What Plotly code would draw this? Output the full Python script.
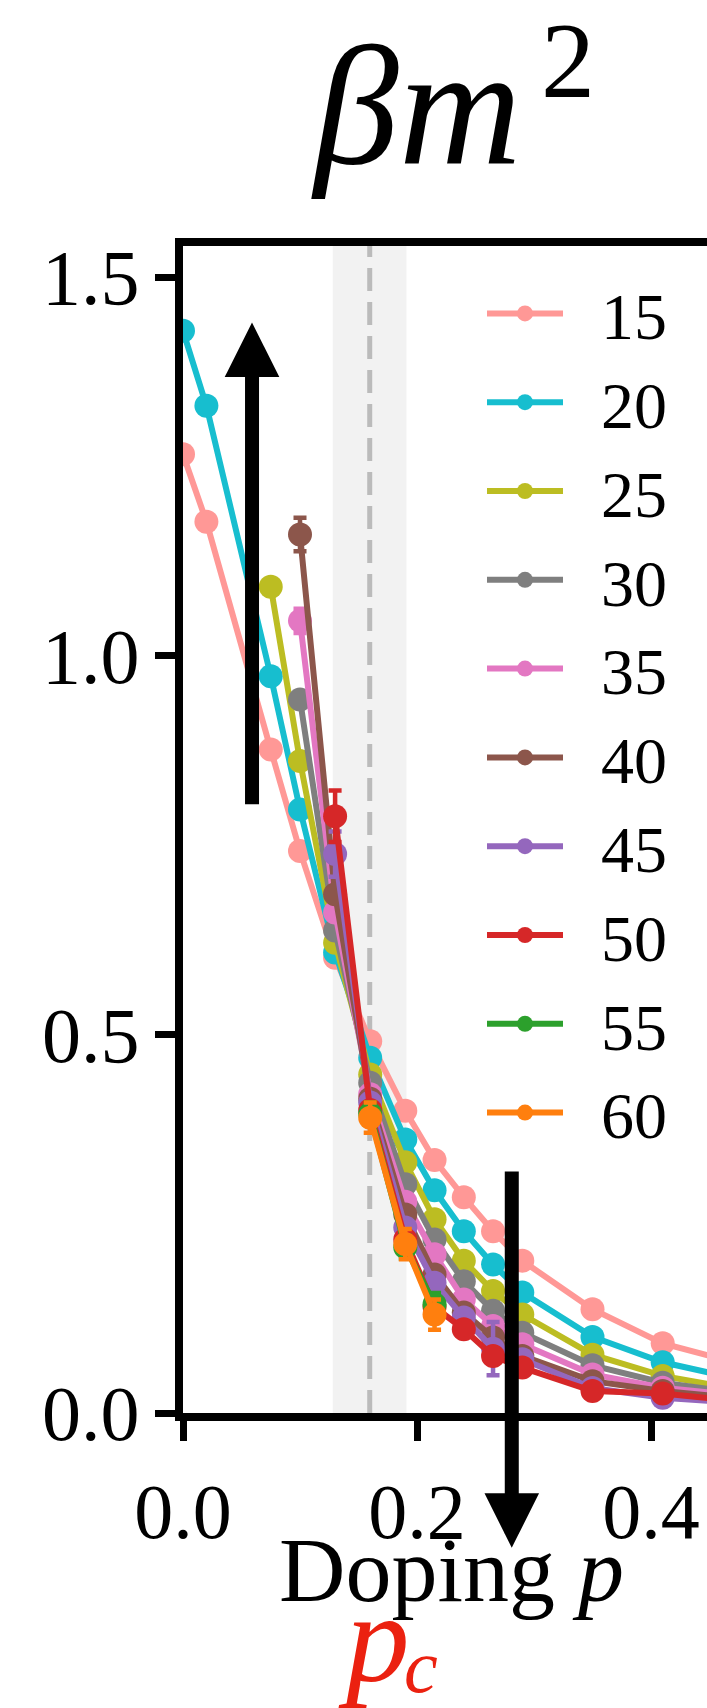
import plotly.graph_objects as go

# ---------------- data ----------------
P = [0.0, 0.02, 0.075, 0.1, 0.13, 0.16, 0.19, 0.215, 0.24, 0.265, 0.29, 0.35, 0.41, 0.5]

sizes = [15, 20, 25, 30, 35, 40, 45, 50, 55, 60]
colors = ["#FF9896", "#17BECF", "#BCBD22", "#7F7F7F", "#E377C2",
          "#8C564B", "#9467BD", "#D62728", "#2CA02C", "#FF7F0E"]

p15 = P
y15 = [1.266, 1.177, 0.876, 0.742, 0.601, 0.491, 0.399, 0.334, 0.285, 0.240, 0.201, 0.137, 0.092, 0.055]
e15 = [0.004] * 14

p20 = P
y20 = [1.429, 1.330, 0.973, 0.797, 0.608, 0.469, 0.361, 0.294, 0.240, 0.196, 0.159, 0.1005, 0.067, 0.036]
e20 = [0.004] * 14

p25 = P[2:]
y25 = [1.091, 0.861, 0.621, 0.447, 0.331, 0.256, 0.201, 0.161, 0.130, 0.077, 0.049, 0.024]
e25 = [0.008, 0.006, 0.005, 0.005, 0.004, 0.004, 0.004, 0.004, 0.004, 0.003, 0.003, 0.003]

p30 = P[3:]
y30 = [0.942, 0.637, 0.436, 0.302, 0.229, 0.174, 0.135, 0.106, 0.063, 0.040, 0.021]
e30 = [0.008, 0.006, 0.005, 0.005, 0.005, 0.004, 0.004, 0.004, 0.003, 0.003, 0.003]

p35 = P[3:]
y35 = [1.046, 0.661, 0.421, 0.279, 0.2096, 0.150, 0.115, 0.0907, 0.051, 0.0335, 0.019]
e35 = [0.016, 0.006, 0.005, 0.005, 0.005, 0.005, 0.004, 0.004, 0.003, 0.003, 0.003]

p40 = P[3:]
y40 = [1.160, 0.685, 0.415, 0.262, 0.183, 0.1326, 0.0996, 0.0754, 0.042, 0.029, 0.016]
e40 = [0.022, 0.008, 0.006, 0.006, 0.005, 0.005, 0.005, 0.004, 0.003, 0.003, 0.003]

p45 = P[4:]
y45 = [0.738, 0.410, 0.245, 0.172, 0.126, 0.085, 0.071, 0.033, 0.020, 0.011]
e45 = [0.030, 0.008, 0.008, 0.006, 0.006, 0.035, 0.006, 0.004, 0.004, 0.003]

p50 = P[4:]
y50 = [0.788, 0.400, 0.229, 0.140, 0.1106, 0.0754, 0.060, 0.029, 0.0256, 0.012]
e50 = [0.034, 0.010, 0.008, 0.008, 0.006, 0.006, 0.005, 0.004, 0.004, 0.003]

p55 = P[5:8]
y55 = [0.395, 0.219, 0.1435]
e55 = [0.015, 0.015, 0.015]

p60 = P[5:8]
y60 = [0.390, 0.223, 0.130]
e60 = [0.020, 0.020, 0.020]

xs = [p15, p20, p25, p30, p35, p40, p45, p50, p55, p60]
ys = [y15, y20, y25, y30, y35, y40, y45, y50, y55, y60]
es = [e15, e20, e25, e30, e35, e40, e45, e50, e55, e60]

p_crit = 0.1596
p_band = [0.128, 0.191]
xticks = [0.0, 0.2, 0.4]
yticks = [0.0, 0.5, 1.0, 1.5]

# ---------------- figure ----------------
W, H = 707, 1708
L, R, T, B = 183, 0, 242, 295
FONT = "Liberation Serif"
NB = "\u00a0"

fig = go.Figure()
for L_, c, x, y, e in zip(sizes, colors, xs, ys, es):
    fig.add_trace(go.Scatter(
        x=x, y=y, name=NB * 2 + str(L_), mode="lines+markers",
        line=dict(color=c, width=6),
        marker=dict(color=c, size=24, line=dict(width=0)),
        error_y=dict(type="data", array=e, visible=True, color=c,
                     thickness=4.5, width=6.5),
    ))

fig.add_shape(type="rect", xref="x", yref="paper", x0=p_band[0], x1=p_band[1],
              y0=0, y1=1, fillcolor="#F2F2F2", line=dict(width=0), layer="below")
fig.add_shape(type="line", xref="x", yref="paper", x0=p_crit, x1=p_crit,
              y0=0, y1=1, line=dict(color="#BBBBBB", width=5, dash="23px,11px"),
              layer="below")
# top spine (right part of figure is cropped, so no right spine)
fig.add_shape(type="line", xref="paper", yref="paper", x0=-8 / (W - L - R), x1=1,
              y0=1, y1=1, line=dict(color="black", width=8), layer="above")

axis_common = dict(showline=True, linewidth=8, linecolor="black", ticks="outside",
                   ticklen=20, tickwidth=7, tickcolor="black", showgrid=False,
                   zeroline=False, tickfont=dict(family=FONT, size=78, color="black"),
                   tickformat=".1f")
fig.update_xaxes(range=[0, (W - L - R) / 1170.0], tickvals=xticks,
                 ticklabelstandoff=3, **axis_common)
fig.update_yaxes(range=[0, (H - T - B) / 757.3], tickvals=yticks,
                 ticklabelstandoff=0, **axis_common)

pw, ph = W - L - R, H - T - B


def px(xp):
    return (xp - L) / pw


def py(yp):
    return (H - B - yp) / ph


annotations = [
    dict(text="<i>βm</i>", xref="paper", yref="paper",
         x=px(416), y=py(106), xanchor="center", yanchor="middle", showarrow=False,
         font=dict(family=FONT, size=170, color="black")),
    dict(text="2", xref="paper", yref="paper",
         x=px(568), y=py(60), xanchor="center", yanchor="middle", showarrow=False,
         font=dict(family=FONT, size=108, color="black")),
    dict(text="Doping <i>p</i>", xref="paper", yref="paper",
         x=px(451), y=py(1570), xanchor="center", yanchor="middle", showarrow=False,
         font=dict(family=FONT, size=92, color="black")),
    dict(text="<i>p</i>", xref="paper", yref="paper",
         x=px(374), y=py(1638), xanchor="center", yanchor="middle", showarrow=False,
         font=dict(family=FONT, size=127, color="#EB2110")),
    dict(text="<i>c</i>", xref="paper", yref="paper",
         x=px(421), y=py(1666), xanchor="center", yanchor="middle", showarrow=False,
         font=dict(family=FONT, size=76, color="#EB2110")),
    # arrows
    dict(text="", x=0.059, y=1.44, ax=0.059, ay=0.802, xref="x", yref="y",
         axref="x", ayref="y", showarrow=True, arrowhead=2, arrowwidth=14,
         arrowsize=0.78, arrowcolor="black"),
    dict(text="", x=0.281, y=-0.178, ax=0.281, ay=0.321, xref="x", yref="y",
         axref="x", ayref="y", showarrow=True, arrowhead=2, arrowwidth=14,
         arrowsize=0.78, arrowcolor="black"),
]

fig.update_layout(
    width=W, height=H,
    margin=dict(l=L, r=R, t=T, b=B, pad=0),
    plot_bgcolor="white", paper_bgcolor="white",
    font=dict(family=FONT, color="black"),
    annotations=annotations,
    showlegend=True,
    legend=dict(x=px(482), y=py(264), xanchor="left", yanchor="top",
                bgcolor="rgba(0,0,0,0)", borderwidth=0,
                font=dict(family=FONT, size=66, color="black"),
                itemwidth=76, itemsizing="trace", tracegroupgap=0),
)

fig.write_html("out.html")
